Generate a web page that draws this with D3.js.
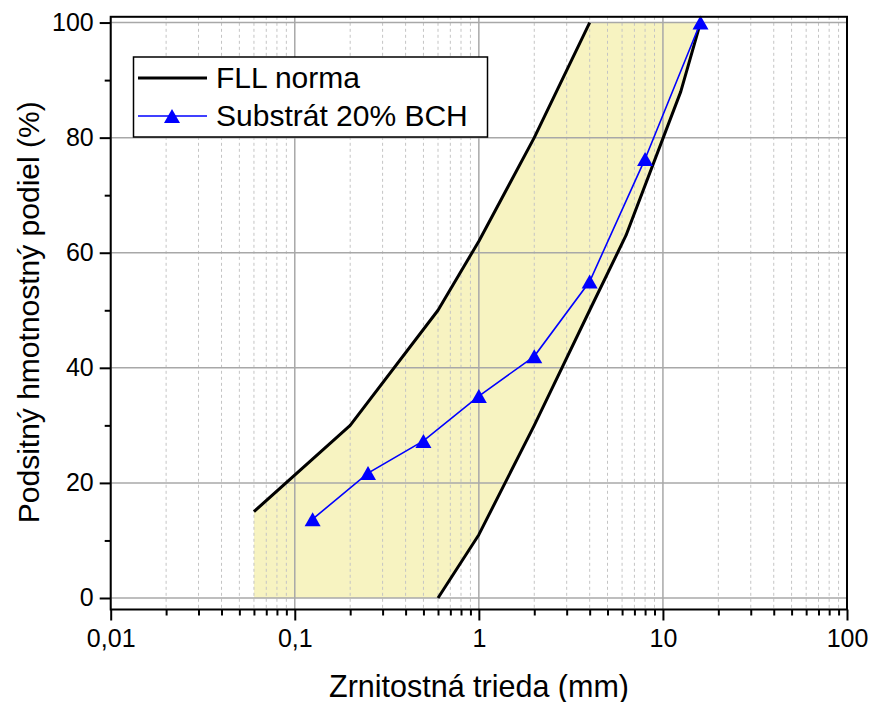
<!DOCTYPE html>
<html>
<head>
<meta charset="utf-8">
<script src="https://cdn.jsdelivr.net/npm/d3@7"></script>
<style>
  html, body { margin: 0; padding: 0; background: #ffffff; }
  svg { display: block; }
  text { font-family: "Liberation Sans", Arial, sans-serif; fill: #000; }
</style>
</head>
<body>
<svg id="chart" width="872" height="702"></svg>
<script>
// ---- data ----
const fllUpperX = [0.06, 0.2, 0.6, 1, 2, 4];
const fllUpperY = [15, 30, 50, 62, 80, 100];
const fllLowerX = [0.6, 1, 2, 4, 6.3, 12.5, 16];
const fllLowerY = [0, 11, 30, 50, 63, 88, 100];
const substratX = [0.125, 0.25, 0.5, 1, 2, 4, 8, 16];
const substratY = [13.7, 21.7, 27.3, 35.1, 42, 55, 76.3, 100];
const xTickValues = [0.01, 0.1, 1, 10, 100];
const xTickLabels = ["0,01", "0,1", "1", "10", "100"];
const yTickValues = [0, 20, 40, 60, 80, 100];
const yMinorValues = [10, 30, 50, 70, 90];
const seriesNames = ["FLL norma", "Substrát 20% BCH"];
const xTitle = "Zrnitostná trieda (mm)";
const yTitle = "Podsitný hmotnostný podiel (%)";

(function () {
// ---- layout ----
const svg = d3.select("#chart");
const pL = 110.7, pR = 847, pT = 16.8, pB = 609.5;
const x = d3.scaleLog().domain([0.01, 100]).range([pL, pR]);
const y = d3.scaleLinear().domain([-2, 101]).range([pB, pT]);
const FF = "'Liberation Sans', Arial, sans-serif";

// minor x values
const xMinor = [];
for (let e = -2; e < 2; e++) for (let k = 2; k <= 9; k++) xMinor.push(k * Math.pow(10, e));

// ---- fill band ----
const upper = fllUpperX.map((v, i) => [v, fllUpperY[i]]);
const lower = fllLowerX.map((v, i) => [v, fllLowerY[i]]);
const band = [[fllUpperX[0], 0]].concat(upper, lower.slice().reverse());
svg.append("path")
  .attr("d", d3.line().x(d => x(d[0])).y(d => y(d[1]))(band) + "Z")
  .attr("fill", "#f7f3c1");

// ---- grid ----
const grid = svg.append("g");
grid.selectAll(".xmin").data(xMinor).join("line")
  .attr("x1", d => x(d)).attr("x2", d => x(d))
  .attr("y1", pT).attr("y2", pB)
  .attr("stroke", "#c4c4c4").attr("stroke-width", 1).attr("stroke-dasharray", "3,3");
grid.selectAll(".xmaj").data(xTickValues).join("line")
  .attr("x1", d => x(d)).attr("x2", d => x(d))
  .attr("y1", pT).attr("y2", pB)
  .attr("stroke", "#a8a8a8").attr("stroke-width", 1.5);
grid.selectAll(".ymaj").data(yTickValues).join("line")
  .attr("x1", pL).attr("x2", pR)
  .attr("y1", d => y(d)).attr("y2", d => y(d))
  .attr("stroke", "#a8a8a8").attr("stroke-width", 1.5);

// ---- FLL lines ----
const ln = d3.line().x(d => x(d[0])).y(d => y(d[1]));
[upper, lower].forEach(arr => {
  svg.append("path").attr("d", ln(arr))
    .attr("fill", "none").attr("stroke", "#000").attr("stroke-width", 3)
    .attr("stroke-linejoin", "round");
});

// ---- substrat series ----
const sub = substratX.map((v, i) => [v, substratY[i]]);
svg.append("path").attr("d", ln(sub))
  .attr("fill", "none").attr("stroke", "#0000ff").attr("stroke-width", 1.6);
const tri = "M0,-7L8,7L-8,7Z";
svg.selectAll(".mk").data(sub).join("path")
  .attr("d", tri)
  .attr("transform", d => `translate(${x(d[0])},${y(d[1])})`)
  .attr("fill", "#0000ff");

// ---- frame ----
svg.append("rect").attr("x", pL).attr("y", pT)
  .attr("width", pR - pL).attr("height", pB - pT)
  .attr("fill", "none").attr("stroke", "#000").attr("stroke-width", 2);

// ---- axes ----
const xAxis = d3.axisBottom(x).tickValues(xTickValues)
  .tickFormat((d, i) => xTickLabels[i]).tickSize(11).tickPadding(9);
const gx = svg.append("g").attr("transform", `translate(0,${pB})`).call(xAxis);
gx.select(".domain").remove();
gx.selectAll("line").attr("stroke-width", 2);
gx.selectAll("text").attr("font-size", 25).attr("font-family", FF);
const xMinorAxis = d3.axisBottom(x).tickValues(xMinor).tickFormat("").tickSize(6);
const gxm = svg.append("g").attr("transform", `translate(0,${pB})`).call(xMinorAxis);
gxm.select(".domain").remove();
gxm.selectAll("line").attr("stroke-width", 2);

const yAxis = d3.axisLeft(y).tickValues(yTickValues).tickSize(11).tickPadding(6);
const gy = svg.append("g").attr("transform", `translate(${pL},0)`).call(yAxis);
gy.select(".domain").remove();
gy.selectAll("line").attr("stroke-width", 2);
gy.selectAll("text").attr("font-size", 25).attr("font-family", FF);
const yMinorAxis = d3.axisLeft(y).tickValues(yMinorValues).tickFormat("").tickSize(6);
const gym = svg.append("g").attr("transform", `translate(${pL},0)`).call(yMinorAxis);
gym.select(".domain").remove();
gym.selectAll("line").attr("stroke-width", 2);

// ---- titles ----
svg.append("text").attr("x", 479).attr("y", 697)
  .attr("text-anchor", "middle").attr("font-size", 30.5).text(xTitle);
svg.append("text")
  .attr("transform", `translate(39,${(y(0) + y(100)) / 2 + 2}) rotate(-90)`)
  .attr("text-anchor", "middle").attr("font-size", 30).text(yTitle);

// ---- legend ----
const lg = svg.append("g");
lg.append("rect").attr("x", 133.5).attr("y", 57).attr("width", 354).attr("height", 80)
  .attr("fill", "#fff").attr("stroke", "#000").attr("stroke-width", 1.5);
lg.append("line").attr("x1", 138).attr("x2", 207).attr("y1", 78).attr("y2", 78)
  .attr("stroke", "#000").attr("stroke-width", 3);
lg.append("line").attr("x1", 138).attr("x2", 207).attr("y1", 116).attr("y2", 116)
  .attr("stroke", "#0000ff").attr("stroke-width", 1.6);
lg.append("path").attr("d", tri).attr("transform", "translate(172,116)").attr("fill", "#0000ff");
lg.selectAll(".lt").data(seriesNames).join("text")
  .attr("x", 216).attr("y", (d, i) => 88 + i * 38)
  .attr("font-size", 30).text(d => d);
})();
</script>
</body>
</html>
